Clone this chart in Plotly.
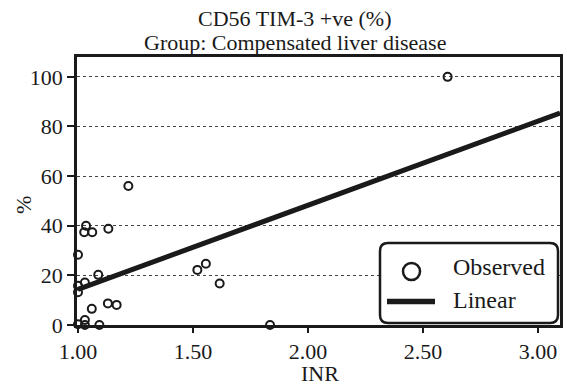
import numpy as np
import plotly.graph_objects as go

# Observed data (INR vs %)
inr = [1.219, 1.035, 1.027, 1.062, 1.132, 1.00, 1.088, 1.03, 1.00, 1.00, 1.06, 1.13, 1.168,
       1.03, 1.00, 1.03, 1.093, 1.519, 1.556, 1.616, 1.835, 2.607]
pct = [56.0, 40.0, 37.4, 37.4, 38.8, 28.3, 20.2, 17.1, 15.8, 13.2, 6.5, 8.7, 8.1,
       2.0, 0.3, 0.0, 0.0, 22.2, 24.7, 16.7, 0.0, 100.0]

x_ticks = [1.0, 1.5, 2.0, 2.5, 3.0]
x_tick_text = ["1.00", "1.50", "2.00", "2.50", "3.00"]
y_ticks = [0, 20, 40, 60, 80, 100]
x_range = [0.9957, 3.0957]
y_range = [0, 108]

# Linear regression fitted to the observed data
slope, intercept = np.polyfit(inr, pct, 1)
fit_x = [min(inr), x_range[1]]
fit_y = [intercept + slope * v for v in fit_x]

font = "Liberation Serif"
ink = "#1a1a1a"

# figure geometry (body margin removed by post_script)
W, H = 567, 386
ml, mr, mt, mb = 77, 7, 57, 61
pw, ph = W - ml - mr, H - mt - mb


def px(xp):  # page x pixel -> paper
    return (xp - ml) / pw


def py(yp):  # page y pixel -> paper
    return (H - mb - yp) / ph


fig = go.Figure()
fig.add_trace(go.Scatter(x=fit_x, y=fit_y, mode="lines", line=dict(color=ink, width=5),
                         name="Linear", showlegend=False, cliponaxis=False, hoverinfo="skip"))
fig.add_trace(go.Scatter(x=inr, y=pct, mode="markers", name="Observed",
                         marker=dict(symbol="circle-open", size=8, color=ink, line=dict(width=2)),
                         showlegend=False, cliponaxis=False))

# custom legend (rounded box)
x0, x1, y0, y1 = px(380), px(558), py(323), py(243)
rx, ry = 8 / pw, 8 / ph
path = (f"M {x0+rx},{y0} L {x1-rx},{y0} Q {x1},{y0} {x1},{y0+ry} L {x1},{y1-ry} "
        f"Q {x1},{y1} {x1-rx},{y1} L {x0+rx},{y1} Q {x0},{y1} {x0},{y1-ry} "
        f"L {x0},{y0+ry} Q {x0},{y0} {x0+rx},{y0} Z")
shapes = [
    dict(type="path", path=path, xref="paper", yref="paper", fillcolor="white",
         line=dict(color=ink, width=2.5), layer="above"),
    dict(type="circle", xref="paper", yref="paper", x0=px(403), x1=px(420), y0=py(280), y1=py(263),
         line=dict(color=ink, width=2.5), fillcolor="white", layer="above"),
    dict(type="line", xref="paper", yref="paper", x0=px(387), x1=px(435), y0=py(301.5), y1=py(301.5),
         line=dict(color=ink, width=5.5), layer="above"),
]
annotations = [
    dict(text="Observed", x=px(451), y=py(267), xref="paper", yref="paper", xanchor="left",
         yanchor="middle", showarrow=False, font=dict(family=font, size=24, color=ink)),
    dict(text="Linear", x=px(451), y=py(300), xref="paper", yref="paper", xanchor="left",
         yanchor="middle", showarrow=False, font=dict(family=font, size=24, color=ink)),
    dict(text="CD56 TIM-3 +ve (%)", x=px(294), y=py(18), xref="paper", yref="paper",
         xanchor="center", yanchor="middle", showarrow=False, font=dict(family=font, size=22, color=ink)),
    dict(text="Group: Compensated liver disease", x=px(295), y=py(43), xref="paper", yref="paper",
         xanchor="center", yanchor="middle", showarrow=False, font=dict(family=font, size=22, color=ink)),
    # axis titles
    dict(text="INR", x=px(320), y=py(373), xref="paper", yref="paper",
         xanchor="center", yanchor="middle", showarrow=False, font=dict(family=font, size=22, color=ink)),
    dict(text="%", x=px(23), y=py(205), xref="paper", yref="paper", textangle=-90,
         xanchor="center", yanchor="middle", showarrow=False, font=dict(family=font, size=22, color=ink)),
]

fig.update_layout(
    width=W, height=H,
    margin=dict(l=ml, r=mr, t=mt, b=mb),
    paper_bgcolor="white", plot_bgcolor="white",
    font=dict(family=font, size=22, color=ink),
    showlegend=False,
    shapes=shapes, annotations=annotations,
)
fig.update_xaxes(range=x_range, tickvals=x_ticks, ticktext=x_tick_text, automargin=False,
                 showgrid=False, zeroline=False, showline=True, linecolor=ink, linewidth=2.5,
                 mirror=True, ticks="outside", ticklen=5, tickwidth=2, tickcolor=ink,
                 tickfont=dict(family=font, size=22, color=ink))
fig.update_yaxes(range=y_range, tickvals=y_ticks, automargin=False,
                 showgrid=True, gridcolor="#444", griddash="dot", gridwidth=1,
                 zeroline=False, showline=True, linecolor=ink, linewidth=2.5,
                 mirror=True, ticks="outside", ticklen=7, tickwidth=2, tickcolor=ink,
                 tickfont=dict(family=font, size=22, color=ink))

fig.write_html("out.html", config={"displayModeBar": False},
               post_script="document.body.style.margin='0';")
